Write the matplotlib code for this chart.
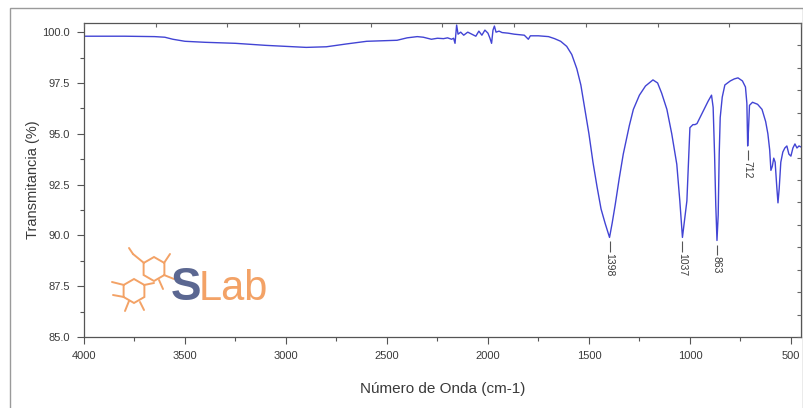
import numpy as np
import matplotlib.pyplot as plt
from matplotlib.patches import Rectangle, RegularPolygon
from matplotlib.ticker import MultipleLocator

plt.rcParams['font.family'] = ['Liberation Sans', 'DejaVu Sans']

# FTIR spectrum (wavenumber in cm-1, transmittance in %)
wavenumber = [
    4000, 3800, 3650, 3600, 3560, 3500, 3400, 3250, 3100, 3000, 2900, 2800,
    2700, 2600, 2500, 2450, 2400, 2350, 2320, 2300, 2280, 2250, 2220, 2200,
    2180, 2170, 2163, 2155, 2148, 2135, 2120, 2100, 2080, 2060, 2045, 2030,
    2015, 2000, 1990, 1982, 1975, 1968, 1960, 1945, 1930, 1900, 1870, 1820,
    1800, 1790, 1750, 1700, 1670, 1640, 1610, 1585, 1560, 1540, 1520, 1500,
    1480, 1460, 1440, 1420, 1398, 1385, 1370, 1350, 1330, 1300, 1280, 1250,
    1220, 1183, 1160, 1140, 1114, 1090, 1065, 1050, 1037, 1025, 1015, 1000,
    985, 975, 965, 950, 930, 910, 893, 885, 878, 872, 866, 860, 855, 850,
    840, 827, 800, 780, 762, 740, 725, 718, 714, 710, 705, 690, 665, 643,
    625, 614, 605, 599, 592, 585, 578, 570, 564, 558, 550, 540, 530, 520,
    510, 500, 490, 480, 470, 460, 450,
]
transmittance = [
    99.80, 99.80, 99.78, 99.75, 99.65, 99.55, 99.50, 99.45, 99.35, 99.30, 99.25, 99.28,
    99.42, 99.55, 99.58, 99.60, 99.72, 99.78, 99.75, 99.70, 99.65, 99.70, 99.68, 99.72,
    99.65, 99.70, 99.45, 100.35, 99.90, 100.00, 99.85, 100.00, 99.90, 99.80, 100.05, 99.85,
    100.10, 99.95, 99.70, 99.45, 100.10, 100.30, 100.00, 100.05, 99.98, 99.95, 99.90, 99.85,
    99.65, 99.82, 99.82, 99.78, 99.68, 99.55, 99.30, 98.90, 98.20, 97.40, 96.20, 95.00,
    93.60, 92.40, 91.30, 90.60, 89.90, 90.60, 91.50, 92.80, 94.00, 95.40, 96.20, 96.90,
    97.35, 97.65, 97.50, 97.00, 96.20, 95.00, 93.50, 91.70, 89.90, 90.90, 91.70, 95.30,
    95.45, 95.45, 95.50, 95.80, 96.20, 96.60, 96.90, 96.30, 94.00, 91.50, 89.75, 91.00,
    94.00, 95.80, 96.80, 97.40, 97.60, 97.70, 97.75, 97.60, 97.30, 96.50, 94.40, 95.20,
    96.40, 96.55, 96.45, 96.20, 95.60, 95.00, 94.20, 93.20, 93.40, 93.80, 93.60, 92.40,
    91.60, 92.30, 93.60, 94.10, 94.30, 94.40, 94.00, 93.90, 94.30, 94.50, 94.30, 94.40,
    94.35,
]

# labelled absorption bands
peak_positions = [1398, 1037, 866, 714]
peak_labels = ['1398', '1037', '863', '712']

line_color = '#4244d4'
text_color = '#3a3a3a'

fig = plt.figure(figsize=(8.04, 4.08), dpi=100)
fig.patch.set_facecolor('white')
fig.add_artist(Rectangle((10 / 804, -0.01), 793 / 804, 1 - 8 / 408 + 0.01,
                         transform=fig.transFigure, fill=False,
                         edgecolor='#9a9a9a', linewidth=1.0))

ax = fig.add_axes([84 / 804, 71 / 408, 717 / 804, 314 / 408])
ax.plot(wavenumber, transmittance, color=line_color, linewidth=1.0)

ax.set_xlim(4000, 450)
ax.set_ylim(85.0, 100.45)
ax.set_xticks([4000, 3500, 3000, 2500, 2000, 1500, 1000, 500])
ax.xaxis.set_minor_locator(MultipleLocator(250))
ax.set_yticks([85.0, 87.5, 90.0, 92.5, 95.0, 97.5, 100.0])
ax.yaxis.set_minor_locator(MultipleLocator(1.25))
ax.set_yticklabels([f'{v:.1f}' for v in ax.get_yticks()])
ax.tick_params(which='major', direction='out', length=5, width=0.8,
               colors='#555555', labelcolor=text_color, labelsize=8, pad=5)
ax.tick_params(which='minor', direction='out', length=3, width=0.8, colors='#555555')

for side in ax.spines.values():
    side.set_color('#555555')
    side.set_linewidth(0.9)

ax.set_xlabel('Número de Onda (cm-1)', fontsize=11, color=text_color, labelpad=15)
ax.set_ylabel('Transmitancia (%)', fontsize=10.5, color=text_color, labelpad=2)

# mirror ticks on top and right at their own spacing
top = ax.twiny()
top.set_xlim(0, 1)
top.set_xticks(np.linspace(0, 1, 11))
top.tick_params(axis='x', direction='in', length=3, width=0.8, colors='#666666',
                labeltop=False)
right = ax.twinx()
right.set_ylim(0, 1)
right.set_yticks(np.linspace(0, 1, 15))
right.tick_params(axis='y', direction='in', length=3, width=0.8, colors='#666666',
                  labelright=False)
for a in (top, right):
    for side in a.spines.values():
        side.set_visible(False)

# peak markers
wn = np.array(wavenumber)
tr = np.array(transmittance)
for pos, lab in zip(peak_positions, peak_labels):
    near = np.abs(wn - pos) <= 12
    tmin = tr[near].min()
    ax.vlines(pos, tmin - 0.7, tmin - 0.2, color='#555555', linewidth=0.8)
    ax.text(pos, tmin - 0.75, lab, rotation=270, ha='center', va='top',
            fontsize=7.5, color=text_color)

# SLab logo
logo = fig.add_axes([106 / 804, 1 - 322 / 408, 76 / 804, 76 / 408])
logo.set_xlim(0, 76)
logo.set_ylim(0, 76)
logo.set_aspect('equal')
logo.axis('off')
orange = '#f3a266'
for cx, cy in [(48, 53), (28, 31)]:
    logo.add_patch(RegularPolygon((cx, cy), 6, radius=12, orientation=0,
                                  fill=False, edgecolor=orange, linewidth=1.4))
for x0, y0, x1, y1 in [(38, 59, 27, 68), (27, 68, 23, 74), (58, 59, 64, 68),
                       (58, 47, 68, 43), (18, 25, 7, 27), (23, 21, 19, 11),
                       (34, 20, 38, 12), (38, 37, 48, 39), (18, 37, 6, 40),
                       (53, 42, 57, 33)]:
    logo.plot([x0, x1], [y0, y1], color=orange, linewidth=1.4,
              solid_capstyle='round')

fig.text(171 / 804, 1 - 300 / 408, 'S', fontsize=33, color='#5b6791',
         fontweight='bold', ha='left', va='baseline')
fig.text(199 / 804, 1 - 300 / 408, 'Lab', fontsize=30, color=orange,
         ha='left', va='baseline')

fig.savefig('out.png', dpi=100)
